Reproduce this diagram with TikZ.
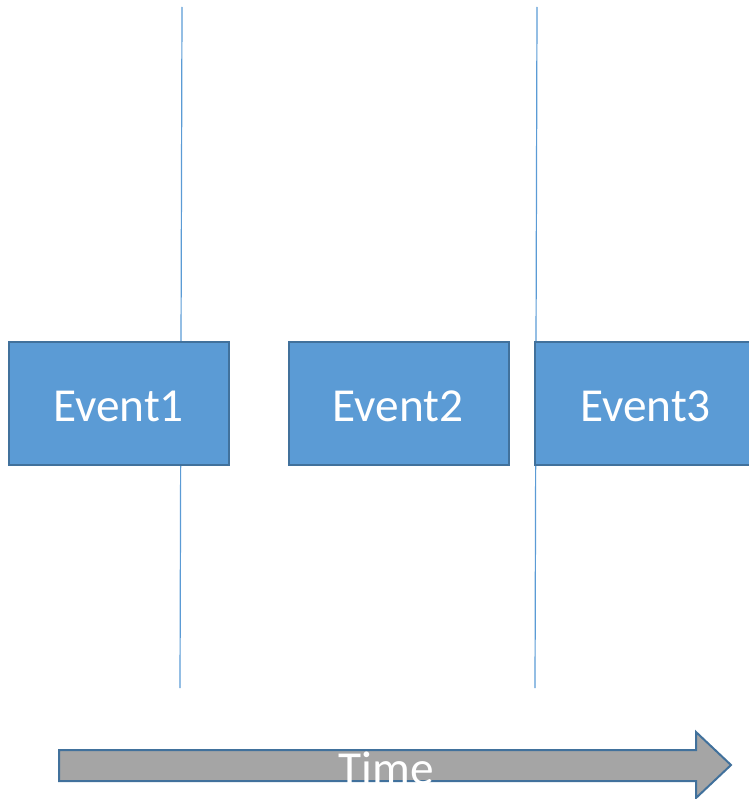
\documentclass[tikz,border=0pt]{standalone}
\usepackage{fontspec}
\setmainfont{Carlito}
\definecolor{evfill}{HTML}{5B9BD5}
\definecolor{evedge}{HTML}{41719C}
\definecolor{arrfill}{HTML}{A5A5A5}
\begin{document}
\begin{tikzpicture}[x=0.75pt,y=-0.75pt,
  evfont/.style={text=white,font=\fontsize{35.5}{40}\selectfont},
  event/.style={draw=evedge,line width=1.5pt,fill=evfill,
    minimum width=220*0.75pt,minimum height=123*0.75pt,inner sep=0pt,
    anchor=north west},
  divider/.style={draw=evfill,line width=0.9pt}]
\useasboundingbox (0,0) rectangle (749,799);
% time dividers (behind the events)
\coordinate (d1top) at (182,7);
\coordinate (d1bot) at (180,688);
\coordinate (d2top) at (537,7);
\coordinate (d2bot) at (535,688);
\draw[divider] (d1top) -- (d1bot);
\draw[divider] (d2top) -- (d2bot);
% events
\node[event] (e1) at (8,341) {};
\node[event] (e2) at (288,341) {};
\node[event,minimum width=230*0.75pt] (e3) at (534,341) {};
\node[evfont] (e1t) at (118.5,406) {Event1};
\node[evfont] (e2t) at (398,406) {Event2};
\node[evfont] (e3t) at (645.5,406) {Event3};
% time arrow
\draw[draw=evedge,line width=1.5pt,fill=arrfill,line join=miter]
  (59,750) -- (696,750) -- (696,732) -- (731,765) -- (696,798) -- (696,781) -- (59,781) -- cycle;
\node[evfont] (time) at (386.5,768) {Time};
\end{tikzpicture}
\end{document}
